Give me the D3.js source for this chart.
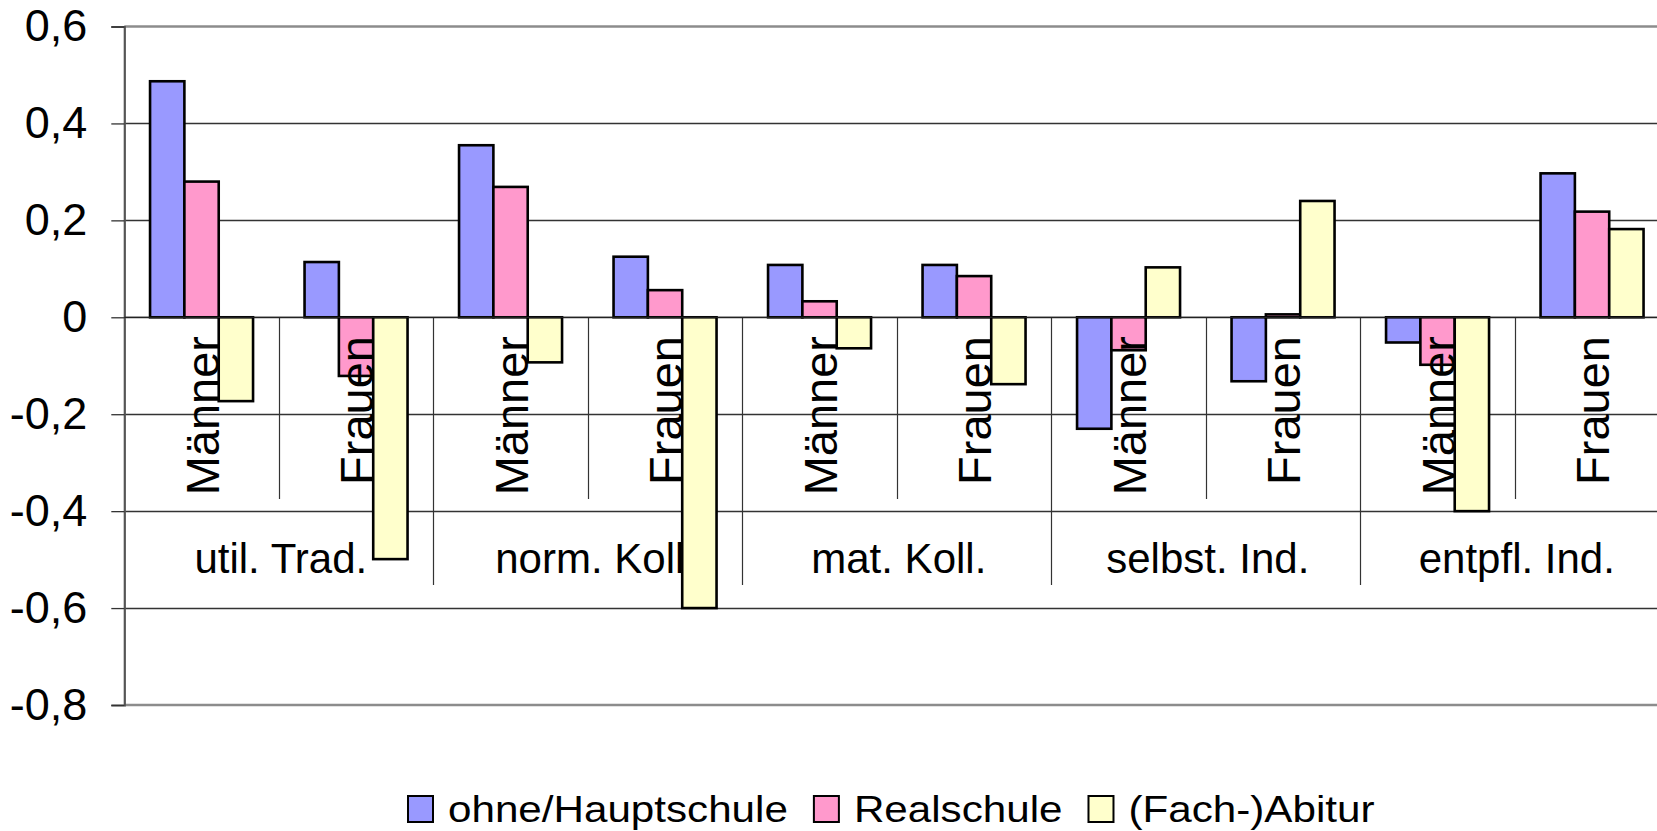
<!DOCTYPE html>
<html>
<head>
<meta charset="utf-8">
<script src="https://cdn.jsdelivr.net/npm/d3@7"></script>
<style>
  html, body { margin: 0; padding: 0; background: #fff; }
  svg { display: block; font-family: "Liberation Sans", Arial, sans-serif; }
</style>
</head>
<body>
<div id="chart"></div>
<script>
// groups and sub categories (x axis, two levels)
var groups = ["util. Trad.", "norm. Koll", "mat. Koll.", "selbst. Ind.", "entpfl. Ind."];
var sexes = ["Männer", "Frauen"];
// series names in legend order
var seriesNames = ["ohne/Hauptschule", "Realschule", "(Fach-)Abitur"];
var seriesColors = ["#9999ff", "#ff99cc", "#ffffcc"];
// values, Männer/Frauen per group
var ohneHaupt = [0.487, 0.114, 0.355, 0.125, 0.108, 0.108, -0.230, -0.132, -0.052, 0.297];
var realschule = [0.280, -0.121, 0.269, 0.056, 0.033, 0.085, -0.068, 0.006, -0.098, 0.218];
var abitur = [-0.173, -0.499, -0.093, -0.600, -0.064, -0.138, 0.103, 0.240, -0.400, 0.182];
var yTicks = [0.6, 0.4, 0.2, 0, -0.2, -0.4, -0.6, -0.8];

var W = 1657, H = 831;
var plotLeft = 124.3, plotTop = 26.5, plotBottom = 705;
var catW = 154.5;

var svg = d3.select("#chart").append("svg")
    .attr("width", W)
    .attr("height", H);

// flat list of the 10 sub categories
var cats = [];
groups.forEach(function(g, i){
  sexes.forEach(function(s, j){ cats.push({ key: i + "-" + j, group: g, sex: s }); });
});

var x = d3.scaleBand()
    .domain(cats.map(function(d){ return d.key; }))
    .range([plotLeft, plotLeft + catW * cats.length])
    .paddingInner(0).paddingOuter(0);
var xs = d3.scaleBand()
    .domain(d3.range(seriesNames.length))
    .range([0, x.bandwidth()])
    .paddingInner(0).paddingOuter(0.75);
var y = d3.scaleLinear().domain([-0.8, 0.6]).range([plotBottom, plotTop]);

var series = [ohneHaupt, realschule, abitur];

function fmt(d){ return d == 0 ? "0" : d3.format(".1f")(d).replace(".", ",").replace("−", "-"); }

// grid lines
svg.append("g").selectAll("line")
  .data(yTicks.filter(function(t){ return t != 0.6 && t != -0.8; }))
  .enter().append("line")
    .attr("x1", plotLeft).attr("x2", W)
    .attr("y1", function(d){ return Math.round(y(d)) + 0.5; })
    .attr("y2", function(d){ return Math.round(y(d)) + 0.5; })
    .attr("stroke", "#333").attr("stroke-width", 1.3);

// plot border top & bottom
[0.6, -0.8].forEach(function(t){
  svg.append("line")
    .attr("x1", plotLeft).attr("x2", W)
    .attr("y1", y(t)).attr("y2", y(t))
    .attr("stroke", "#8c8c8c").attr("stroke-width", 2.4);
});

// y axis with ticks
var yAxis = d3.axisLeft(y).tickValues(yTicks).tickSize(13).tickPadding(24).tickFormat(fmt);
var ya = svg.append("g").attr("transform", "translate(" + plotLeft + ",0)").call(yAxis);
ya.select(".domain").attr("stroke", "#555").attr("stroke-width", 2.2);
ya.selectAll(".tick line").attr("stroke", "#333").attr("stroke-width", 1.3);
ya.selectAll(".tick text")
  .attr("font-size", 45).attr("fill", "#000")
  .attr("font-family", "Liberation Sans, Arial, sans-serif");

// category separators
var zeroY = y(0);
svg.append("g").selectAll("line")
  .data(d3.range(1, cats.length + 1))
  .enter().append("line")
    .attr("x1", function(i){ return Math.round(plotLeft + i * catW) + 0.5; })
    .attr("x2", function(i){ return Math.round(plotLeft + i * catW) + 0.5; })
    .attr("y1", zeroY)
    .attr("y2", function(i){ return i % 2 == 0 ? 585 : 499; })
    .attr("stroke", "#333").attr("stroke-width", 1.2);

// group labels
svg.append("g").selectAll("text")
  .data(groups)
  .enter().append("text")
    .attr("x", function(d, i){ return plotLeft + (i * 2 + 1) * catW + 2; })
    .attr("y", 573)
    .attr("text-anchor", "middle")
    .attr("font-size", 42)
    .text(function(d){ return d; });

// bars
series.forEach(function(vals, si){
  svg.append("g").selectAll("rect")
    .data(vals)
    .enter().append("rect")
      .attr("x", function(d, i){ return x(cats[i].key) + xs(si); })
      .attr("width", xs.bandwidth())
      .attr("y", function(d){ return y(Math.max(0, d)); })
      .attr("height", function(d){ return Math.abs(y(d) - y(0)); })
      .attr("fill", seriesColors[si])
      .attr("stroke", "#000").attr("stroke-width", 2.6);
});

// zero line on top
svg.append("line")
  .attr("x1", plotLeft).attr("x2", W)
  .attr("y1", zeroY).attr("y2", zeroY)
  .attr("stroke", "#222").attr("stroke-width", 1.3);

// rotated Männer / Frauen labels
svg.append("g").selectAll("text")
  .data(cats)
  .enter().append("text")
    .attr("transform", function(d){
      return "translate(" + (x(d.key) + x.bandwidth() / 2 + 17) + "," + 336 + ") rotate(-90)";
    })
    .attr("text-anchor", "end")
    .attr("font-size", 47)
    .text(function(d){ return d.sex; });

// legend
var lg = svg.append("g");
var cx = 408, sx = 1.14;
seriesNames.forEach(function(name, i){
  lg.append("rect")
    .attr("x", cx).attr("y", 796)
    .attr("width", 25).attr("height", 26)
    .attr("fill", seriesColors[i]).attr("stroke", "#000").attr("stroke-width", 2);
  var t = lg.append("text")
    .attr("transform", "translate(" + (cx + 40) + ",822) scale(" + sx + ",1)")
    .attr("font-size", 37)
    .text(name);
  var w = t.node().getComputedTextLength() * sx;
  cx = cx + 40 + w + 26;
});
</script>
</body>
</html>
